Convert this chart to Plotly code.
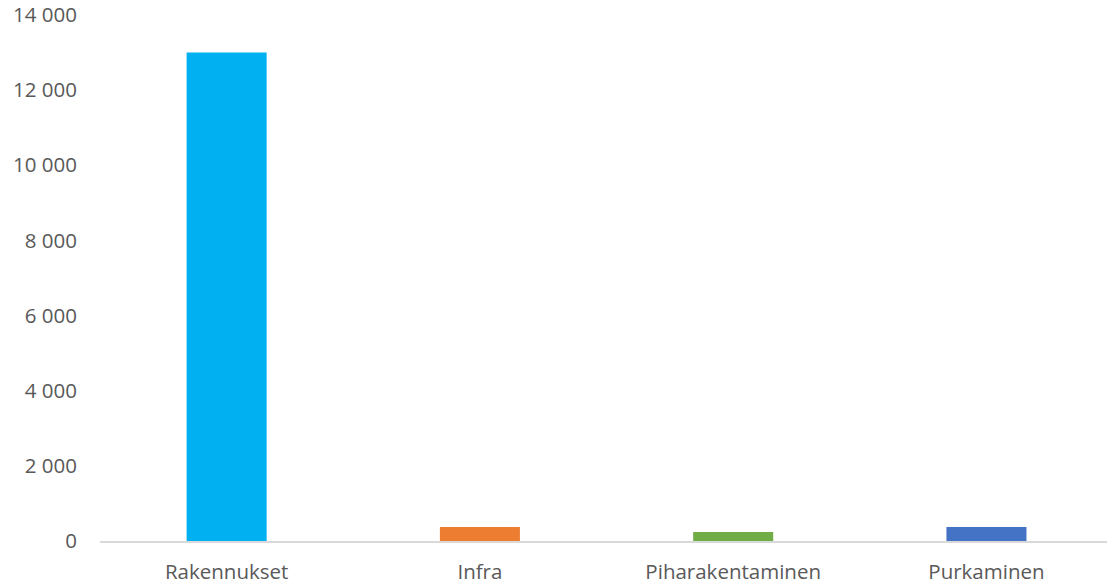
import plotly.graph_objects as go

categories = ["Rakennukset", "Infra", "Piharakentaminen", "Purkaminen"]
values = [13000, 375, 240, 375]
colors = ["#00B0F0", "#ED7D31", "#70AD47", "#4472C4"]
y_ticks = [0, 2000, 4000, 6000, 8000, 10000, 12000, 14000]

fig = go.Figure(go.Bar(x=categories, y=values, marker=dict(color=colors, line=dict(width=0))))

font = dict(family="Open Sans", size=20.5, color="#595959")
fig.update_layout(
    width=1107, height=586,
    margin=dict(l=100, r=0, t=15, b=45),
    paper_bgcolor="white", plot_bgcolor="white",
    bargap=0.684,
    separators=", ",
    font=font,
    showlegend=False,
)
fig.update_xaxes(range=[-0.5, 3.476], showline=True, linecolor="#D9D9D9", linewidth=1.5,
                 showgrid=False, ticks="outside", ticklen=12,
                 tickcolor="rgba(0,0,0,0)", tickfont=font)
fig.update_yaxes(range=[0, 14000], tickvals=y_ticks, tickformat=",d", showgrid=False,
                 zeroline=False, showline=False, ticks="outside", ticklen=18,
                 tickcolor="rgba(0,0,0,0)", tickfont=font)

fig.write_html("out.html")
